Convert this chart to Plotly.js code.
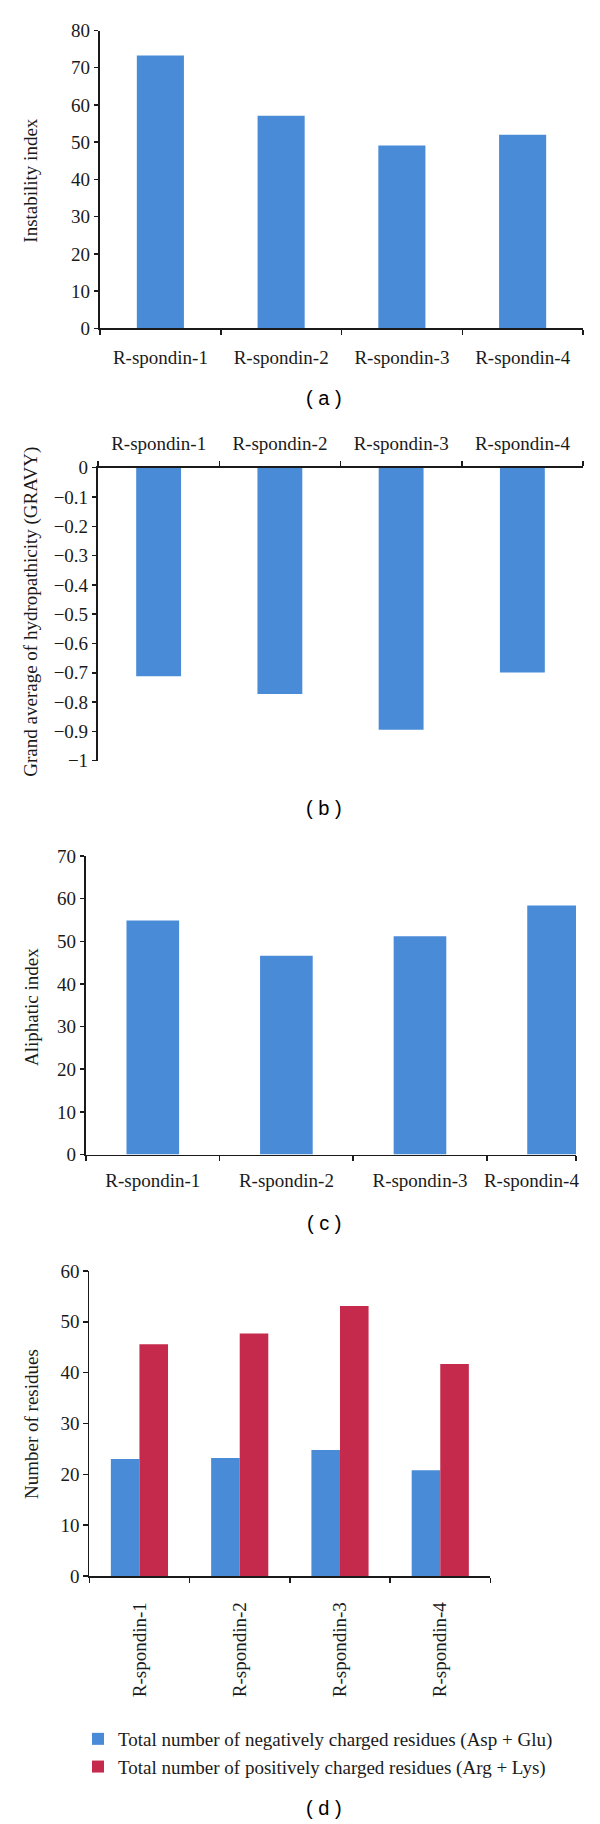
<!DOCTYPE html>
<html>
<head>
<meta charset="utf-8">
<script src="https://cdn.plot.ly/plotly-3.0.1.min.js"></script>
<style>
  html, body { margin: 0; padding: 0; background: #ffffff; }
  #chart { width: 600px; height: 1824px; }
</style>
</head>
<body>
<div id="chart"></div>
<script>
// ---------------- data ----------------
const categories = ['R-spondin-1', 'R-spondin-2', 'R-spondin-3', 'R-spondin-4'];
const instabilityIndex = [73.3, 57.1, 49.1, 52.0];
const gravyValues = [-0.712, -0.772, -0.894, -0.699];
const aliphaticIndex = [54.9, 46.6, 51.2, 58.4];
const negativeResidues = [23.0, 23.2, 24.8, 20.8];
const positiveResidues = [45.6, 47.7, 53.1, 41.7];
const seriesNames = [
  'Total number of negatively charged residues (Asp + Glu)',
  'Total number of positively charged residues (Arg + Lys)'
];
const axisTitles = ['Instability index', 'Grand average of hydropathicity (GRAVY)', 'Aliphatic index', 'Number of residues'];
const panelLabels = ['( a )', '( b )', '( c )', '( d )'];

// ---------------- style ----------------
const W = 600, H = 1824;
const BLUE = '#4a8bd8', RED = '#c52a4c';
const INK = '#1a1a1a';
const SERIF = 'Liberation Serif, Times New Roman, serif';
const SANS = 'Liberation Sans, Arial, sans-serif';
const FS = 19;

const dx = (a, b) => [a / W, b / W];
const dy = (top, bottom) => [1 - bottom / H, 1 - top / H];

const idx = categories.map((_, i) => i);
const n = categories.length;
const cRangeEnd = 3.168; // panel (c) x axis is cut just after the last bar
function bounds(end) {
  const b = idx.map(i => i - 0.5);
  b.push(end);
  return b;
}
// label positions: centre of visible part of each category
function labelPos(end) {
  return idx.map(i => (Math.max(i - 0.5, -0.5) + Math.min(i + 0.5, end)) / 2);
}

function xAxis(domain, end, extra) {
  return Object.assign({
    domain: domain, type: 'linear', range: [-0.5, end],
    showline: true, linecolor: INK, linewidth: 1.6,
    showgrid: false, zeroline: false, fixedrange: true,
    tickmode: 'array', tickvals: labelPos(end), ticktext: categories,
    ticks: '', tickfont: { family: SERIF, size: FS, color: INK },
    minor: { tickmode: 'array', tickvals: bounds(end), ticks: 'outside', ticklen: 5, tickwidth: 1.5, tickcolor: INK, showgrid: false }
  }, extra || {});
}
function yAxis(domain, range, dtick, extra) {
  return Object.assign({
    domain: domain, range: range, dtick: dtick, tick0: 0,
    showline: true, linecolor: INK, linewidth: 1.6,
    showgrid: false, zeroline: false, fixedrange: true,
    ticks: 'outside', ticklen: 4.5, tickwidth: 1.5, tickcolor: INK,
    tickfont: { family: SERIF, size: FS, color: INK },
    ticklabelstandoff: 4.5
  }, extra || {});
}

const traces = [
  { type: 'bar', x: idx, y: instabilityIndex, xaxis: 'x', yaxis: 'y', width: 0.39,
    marker: { color: BLUE }, showlegend: false, hoverinfo: 'y' },
  { type: 'bar', x: idx, y: gravyValues, xaxis: 'x2', yaxis: 'y2', width: 0.37,
    marker: { color: BLUE }, showlegend: false, hoverinfo: 'y' },
  { type: 'bar', x: idx, y: aliphaticIndex, xaxis: 'x3', yaxis: 'y3', width: 0.394,
    marker: { color: BLUE }, showlegend: false, hoverinfo: 'y' },
  { type: 'bar', x: idx, y: negativeResidues, xaxis: 'x4', yaxis: 'y4', name: seriesNames[0],
    marker: { color: BLUE }, hoverinfo: 'y' },
  { type: 'bar', x: idx, y: positiveResidues, xaxis: 'x4', yaxis: 'y4', name: seriesNames[1],
    marker: { color: RED }, hoverinfo: 'y' }
];

const titleAnn = (text, x, y) => ({
  text: text, xref: 'paper', yref: 'paper', x: x / W, y: 1 - y / H,
  xanchor: 'center', yanchor: 'middle', textangle: -90, showarrow: false,
  font: { family: SERIF, size: FS, color: INK }
});
const panelAnn = (text, y) => ({
  text: text, xref: 'paper', yref: 'paper', x: 324 / W, y: 1 - y / H,
  xanchor: 'center', yanchor: 'middle', showarrow: false,
  font: { family: SANS, size: 20, color: '#000000' }
});

const layout = {
  width: W, height: H,
  margin: { l: 0, r: 0, t: 0, b: 0, pad: 0 },
  paper_bgcolor: '#ffffff', plot_bgcolor: '#ffffff',
  barmode: 'group', bargap: 0.43, bargroupgap: 0,
  showlegend: true,
  legend: {
    x: 78 / W, y: 1 - 1720 / H, xanchor: 'left', yanchor: 'top',
    font: { family: SERIF, size: FS, color: INK },
    bgcolor: 'rgba(0,0,0,0)', traceorder: 'normal'
  },
  xaxis: xAxis(dx(100, 583), n - 0.5, { anchor: 'y', ticklabelstandoff: 11 }),
  yaxis: yAxis(dy(30.5, 328.3), [0, 80], 10, { anchor: 'x' }),
  xaxis2: xAxis(dx(98, 583), n - 0.5, { anchor: 'y2', side: 'top', ticklabelstandoff: 9 }),
  yaxis2: yAxis(dy(467.7, 760.7), [-1, 0], 0.1, { anchor: 'x2' }),
  xaxis3: xAxis(dx(86, 576), cRangeEnd, { anchor: 'y3', ticklabelstandoff: 8 }),
  yaxis3: yAxis(dy(856, 1154.5), [0, 70], 10, { anchor: 'x3' }),
  xaxis4: xAxis(dx(89.3, 490.4), n - 0.5, { anchor: 'y4', tickangle: -90, ticklabelstandoff: 17 }),
  yaxis4: yAxis(dy(1271, 1576), [0, 60], 10, { anchor: 'x4' }),
  annotations: [
    titleAnn(axisTitles[0], 31, 180.7),
    titleAnn(axisTitles[1], 31, 611.7),
    titleAnn(axisTitles[2], 31, 1007),
    titleAnn(axisTitles[3], 31, 1424),
    panelAnn(panelLabels[0], 398),
    panelAnn(panelLabels[1], 808),
    panelAnn(panelLabels[2], 1223),
    panelAnn(panelLabels[3], 1808)
  ]
};

Plotly.newPlot('chart', traces, layout, { staticPlot: true, displayModeBar: false });
</script>
</body>
</html>
